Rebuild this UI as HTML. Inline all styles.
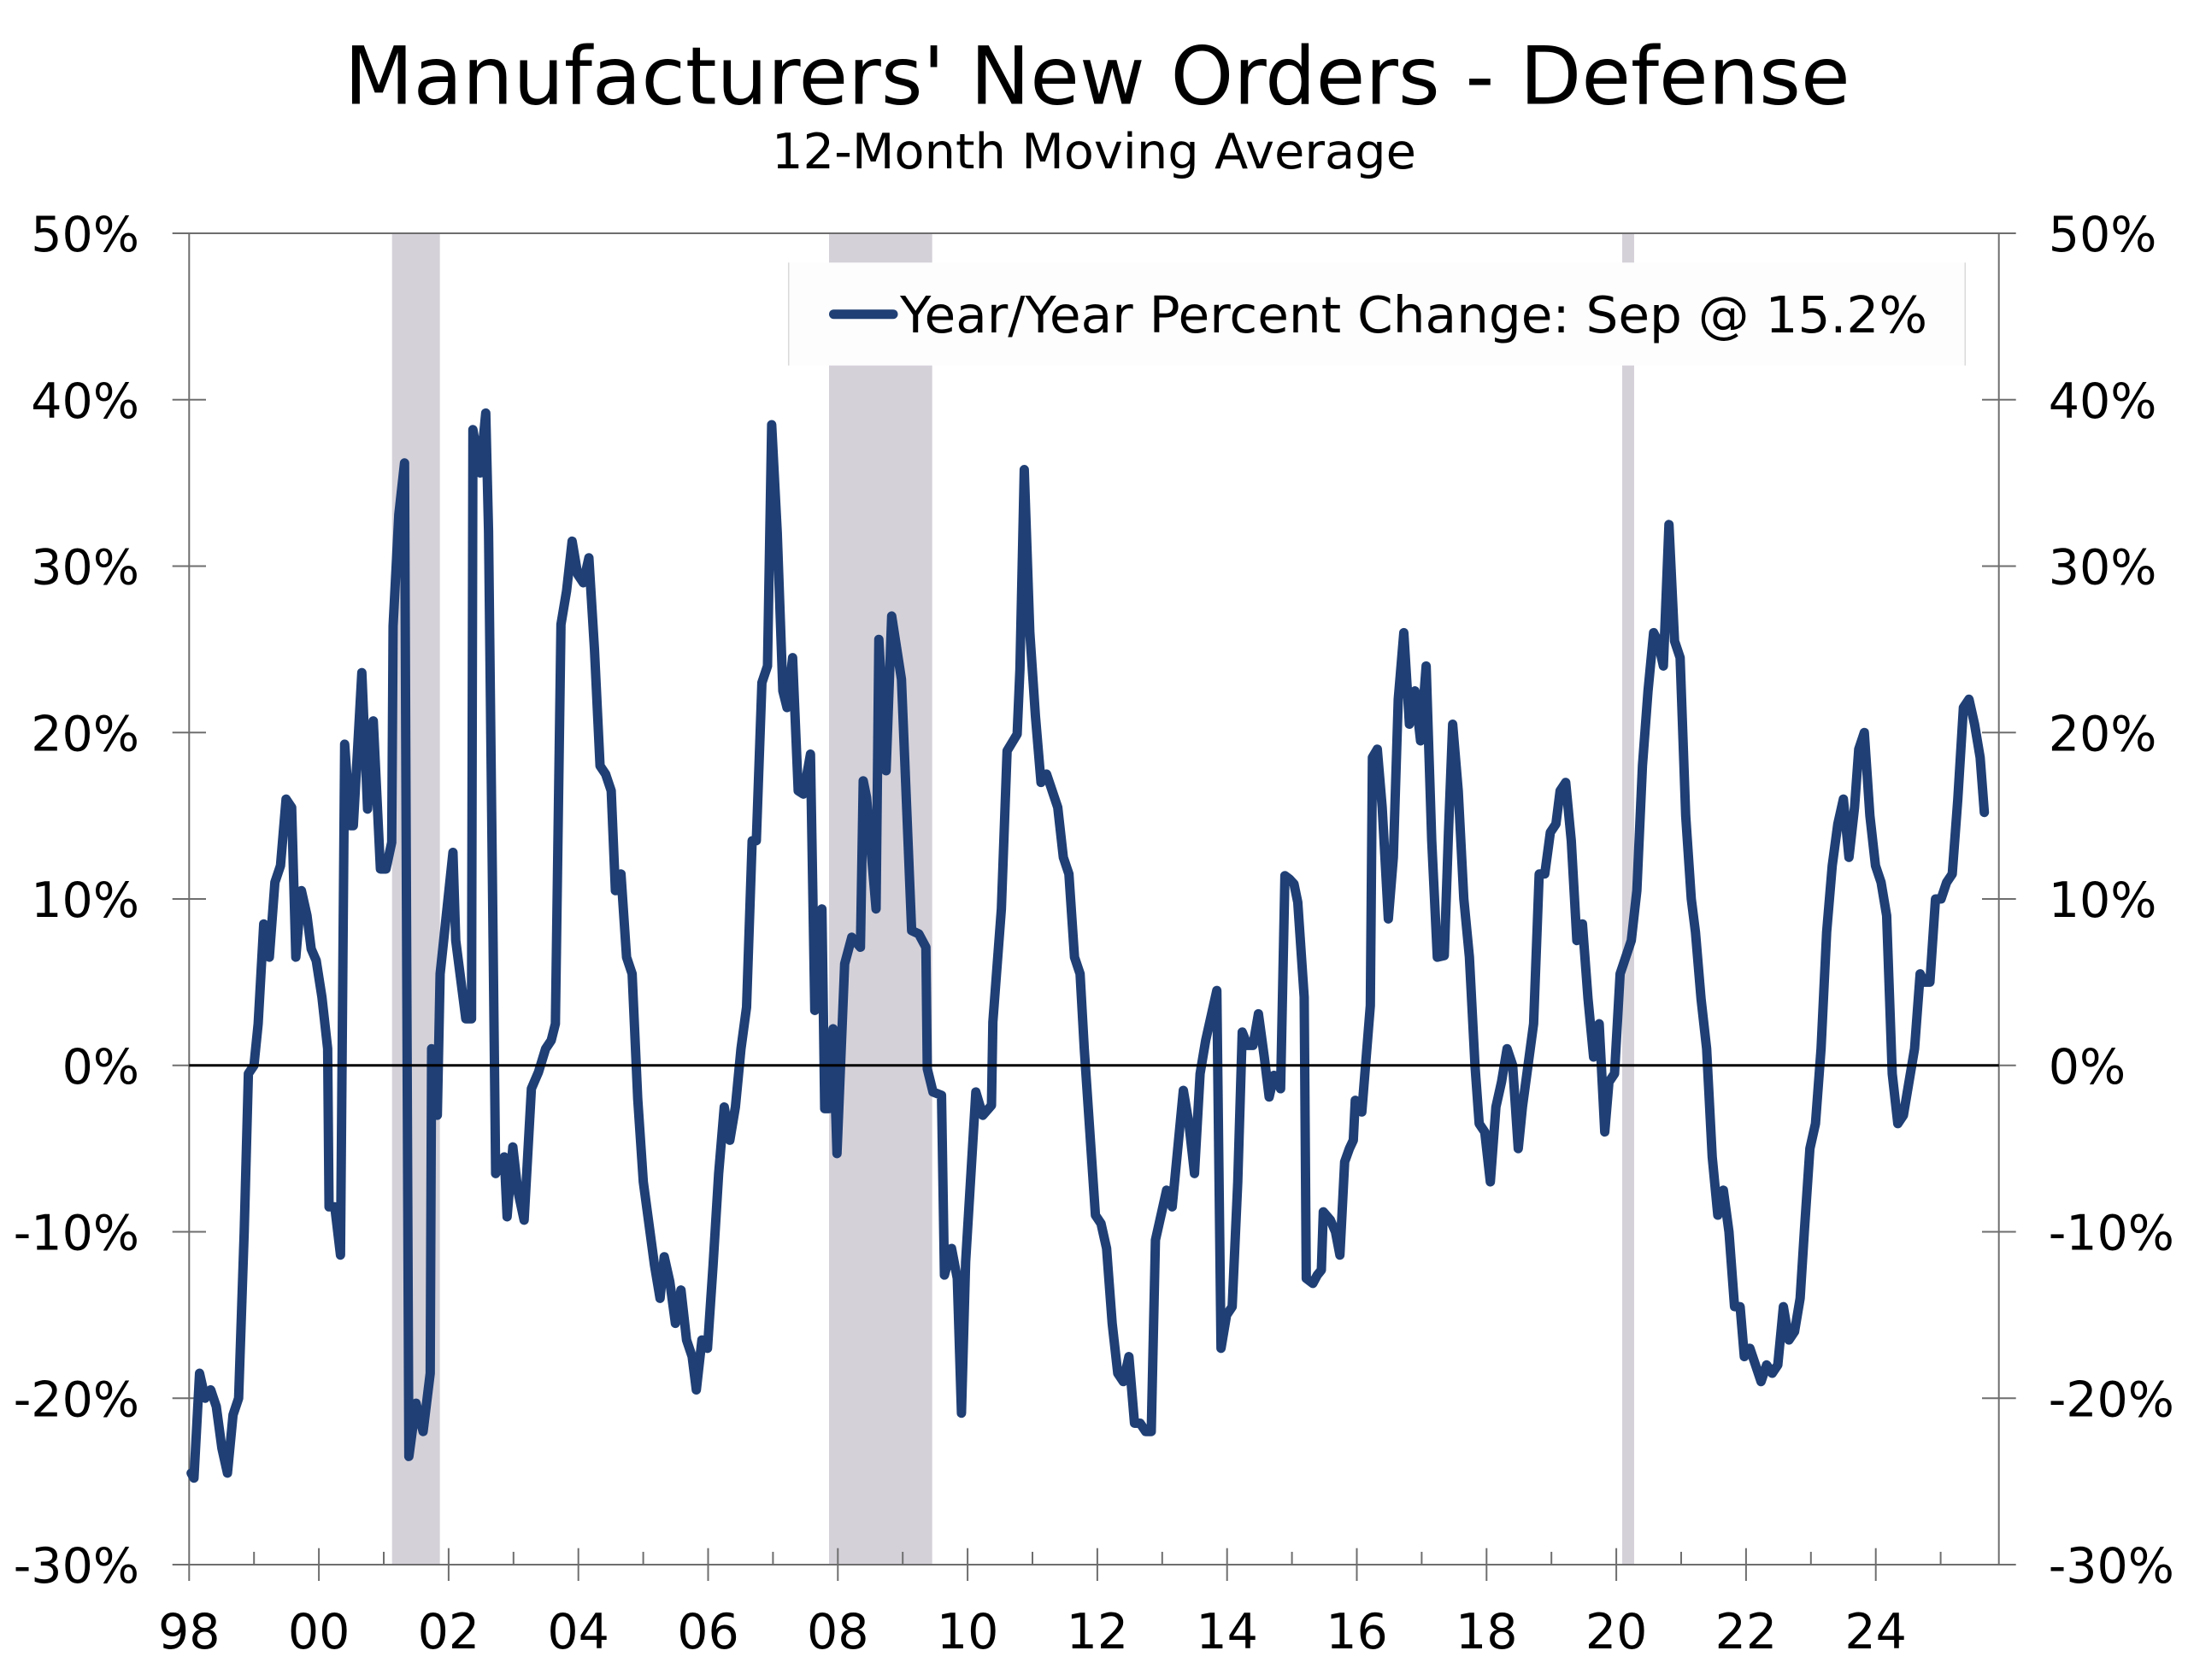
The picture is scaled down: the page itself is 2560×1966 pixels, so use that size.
<!DOCTYPE html>
<html>
<head>
<meta charset="utf-8">
<style>
  html,body{margin:0;padding:0;background:#ffffff;}
  svg{display:block;}
  text{font-family:"DejaVu Sans","Liberation Sans",sans-serif;fill:#000;}
</style>
</head>
<body>
<svg width="2560" height="1966" viewBox="0 0 2560 1966" xmlns="http://www.w3.org/2000/svg">
  <rect x="0" y="0" width="2560" height="1966" fill="#ffffff"/>

  <!-- Title -->
  <text x="402.7" y="121.7" font-size="94" textLength="1762" lengthAdjust="spacingAndGlyphs">Manufacturers' New Orders - Defense</text>
  <text x="903" y="197" font-size="57" textLength="754" lengthAdjust="spacingAndGlyphs">12-Month Moving Average</text>

  <!-- Recession bars -->
  <g fill="#d5d1d9">
    <rect x="458.7" y="273" width="56" height="1558"/>
    <rect x="970" y="273" width="120.7" height="1558"/>
    <rect x="1898" y="273" width="14" height="1558"/>
  </g>

  <!-- Axes frame -->
  <g stroke="#6e6e6e" stroke-width="2" fill="none">
    <line x1="201.7" y1="273" x2="2358.7" y2="273"/>
    <line x1="201.7" y1="1831" x2="2358.7" y2="1831"/>
    <line x1="221.3" y1="273" x2="221.3" y2="1850"/>
    <line x1="2338.7" y1="273" x2="2338.7" y2="1831"/>
    <!-- left y ticks -->
    <line x1="201.7" y1="467.75" x2="241" y2="467.75"/>
    <line x1="201.7" y1="662.5" x2="241" y2="662.5"/>
    <line x1="201.7" y1="857.25" x2="241" y2="857.25"/>
    <line x1="201.7" y1="1052" x2="241" y2="1052"/>
    <line x1="201.7" y1="1246.75" x2="241" y2="1246.75"/>
    <line x1="201.7" y1="1441.5" x2="241" y2="1441.5"/>
    <line x1="201.7" y1="1636.25" x2="241" y2="1636.25"/>
    <!-- right y ticks -->
    <line x1="2319" y1="467.75" x2="2358.7" y2="467.75"/>
    <line x1="2319" y1="662.5" x2="2358.7" y2="662.5"/>
    <line x1="2319" y1="857.25" x2="2358.7" y2="857.25"/>
    <line x1="2319" y1="1052" x2="2358.7" y2="1052"/>
    <line x1="2319" y1="1246.75" x2="2358.7" y2="1246.75"/>
    <line x1="2319" y1="1441.5" x2="2358.7" y2="1441.5"/>
    <line x1="2319" y1="1636.25" x2="2358.7" y2="1636.25"/>
    <!-- x ticks: major even years, minor odd years -->
    <line x1="373.1" y1="1811.7" x2="373.1" y2="1850"/>
    <line x1="524.9" y1="1811.7" x2="524.9" y2="1850"/>
    <line x1="676.7" y1="1811.7" x2="676.7" y2="1850"/>
    <line x1="828.5" y1="1811.7" x2="828.5" y2="1850"/>
    <line x1="980.3" y1="1811.7" x2="980.3" y2="1850"/>
    <line x1="1132.1" y1="1811.7" x2="1132.1" y2="1850"/>
    <line x1="1283.9" y1="1811.7" x2="1283.9" y2="1850"/>
    <line x1="1435.7" y1="1811.7" x2="1435.7" y2="1850"/>
    <line x1="1587.5" y1="1811.7" x2="1587.5" y2="1850"/>
    <line x1="1739.3" y1="1811.7" x2="1739.3" y2="1850"/>
    <line x1="1891.1" y1="1811.7" x2="1891.1" y2="1850"/>
    <line x1="2042.9" y1="1811.7" x2="2042.9" y2="1850"/>
    <line x1="2194.7" y1="1811.7" x2="2194.7" y2="1850"/>
    <line x1="297.2" y1="1816" x2="297.2" y2="1831"/>
    <line x1="449" y1="1816" x2="449" y2="1831"/>
    <line x1="600.8" y1="1816" x2="600.8" y2="1831"/>
    <line x1="752.6" y1="1816" x2="752.6" y2="1831"/>
    <line x1="904.4" y1="1816" x2="904.4" y2="1831"/>
    <line x1="1056.2" y1="1816" x2="1056.2" y2="1831"/>
    <line x1="1208" y1="1816" x2="1208" y2="1831"/>
    <line x1="1359.8" y1="1816" x2="1359.8" y2="1831"/>
    <line x1="1511.6" y1="1816" x2="1511.6" y2="1831"/>
    <line x1="1663.4" y1="1816" x2="1663.4" y2="1831"/>
    <line x1="1815.2" y1="1816" x2="1815.2" y2="1831"/>
    <line x1="1967" y1="1816" x2="1967" y2="1831"/>
    <line x1="2118.8" y1="1816" x2="2118.8" y2="1831"/>
    <line x1="2270.6" y1="1816" x2="2270.6" y2="1831"/>
  </g>

  <!-- Left y labels -->
  <g font-size="57" text-anchor="end">
    <text x="163" y="294">50%</text>
    <text x="163" y="488.75">40%</text>
    <text x="163" y="683.5">30%</text>
    <text x="163" y="878.25">20%</text>
    <text x="163" y="1073">10%</text>
    <text x="163" y="1267.75">0%</text>
    <text x="163" y="1462.5">-10%</text>
    <text x="163" y="1657.25">-20%</text>
    <text x="163" y="1852">-30%</text>
  </g>
  <!-- Right y labels -->
  <g font-size="57" text-anchor="start">
    <text x="2396.7" y="294">50%</text>
    <text x="2396.7" y="488.75">40%</text>
    <text x="2396.7" y="683.5">30%</text>
    <text x="2396.7" y="878.25">20%</text>
    <text x="2396.7" y="1073">10%</text>
    <text x="2396.7" y="1267.75">0%</text>
    <text x="2396.7" y="1462.5">-10%</text>
    <text x="2396.7" y="1657.25">-20%</text>
    <text x="2396.7" y="1852">-30%</text>
  </g>
  <!-- X labels -->
  <g font-size="57" text-anchor="middle">
    <text x="221.3" y="1929">98</text>
    <text x="373.1" y="1929">00</text>
    <text x="524.9" y="1929">02</text>
    <text x="676.7" y="1929">04</text>
    <text x="828.5" y="1929">06</text>
    <text x="980.3" y="1929">08</text>
    <text x="1132.1" y="1929">10</text>
    <text x="1283.9" y="1929">12</text>
    <text x="1435.7" y="1929">14</text>
    <text x="1587.5" y="1929">16</text>
    <text x="1739.3" y="1929">18</text>
    <text x="1891.1" y="1929">20</text>
    <text x="2042.9" y="1929">22</text>
    <text x="2194.7" y="1929">24</text>
  </g>

  <!-- Data line -->
  <g transform="matrix(1.6327,0,0,-19.475,0,1246.75)">
    <polyline fill="none" stroke="#1f3f75" stroke-width="11" stroke-linejoin="round" stroke-linecap="round" vector-effect="non-scaling-stroke"
      points="137,-24.5 139,-24.8 143,-18.5 147,-20 151,-19.5 155,-20.5 159,-23 163,-24.5 167,-21 171,-20 175,-10 178,-0.5 182,0 185,2.5 189,8.5 193,6.5 197,11 201,12 205,16 209,15.5 212,6.5 216,10.5 220,9 223,7 226.6,6.3 230.7,4.1 234.8,1.0 235.8,-8.5 239.9,-8.5 244,-11.4 247,19.3 251.1,14.4 253.2,14.4 259.3,23.6 263.4,15.4 267.5,20.7 272.6,11.8 276.6,11.8 280.7,13.4 281.7,26.4 285.8,33.1 289.9,36.2 293,-23.5 298.1,-20.3 303.2,-22 308.3,-18.5 309.3,1 313.4,-3 315.4,5.5 324.6,12.8 326.6,7.5 333.8,2.8 337.9,2.8 338.9,38.2 344,35.6 348.1,39.2 350.1,32.1 355.2,-6.5 361.4,-5.5 363.4,-9.1 367.5,-4.9 371,-7.5 375.6,-9.3 380.8,-1.4 385.9,-0.4 391,1 395,1.5 398,2.5 402,26.5 406,28.5 410,31.5 414,29.5 418,29 422,30.5 426,25 430,18 434,17.5 438,16.5 441,10.5 445,11.5 449,6.5 453,5.5 457,-2 461,-7 465,-9.5 469,-12 473,-14 476,-11.5 480,-13 484,-15.5 488,-13.5 492,-16.5 496,-17.5 499,-19.5 503,-16.5 507,-17 511,-12 515,-6.5 519,-2.5 523,-4.5 527,-2.5 531,1 535,3.5 539,13.5 542,13.5 546,23 550,24 553,38.5 557,32 561,22.5 564,21.5 568,24.5 572,16.5 575.7,16.3 580.8,18.7 583.9,3.3 589,9.4 591,-2.6 594,-2.6 597,2.2 599.8,-5.3 605.3,6.1 610.4,7.7 616.6,7.1 618.6,17.1 621,16.1 627.8,9.4 629.8,25.6 635,17.7 639,27 646,23.2 653.3,8.1 658.4,7.9 663.5,7.1 664.5,-0.2 668.6,-1.6 674.7,-1.8 676.8,-12.6 681.9,-11 686,-12.8 689,-20.9 692,-11.8 699.3,-1.6 704.3,-3 710.5,-2.4 711.5,2.6 717.6,9.4 721.7,18.9 728.9,19.9 730.9,23.8 734,35.8 738,26 742,21 746,17 750,17.5 754,16.5 758,15.5 762,12.5 766,11.5 770,6.5 774,5.5 777,1 781,-4 785,-9 789,-9.5 793,-11 797,-15.5 801,-18.5 805,-19 809,-17.5 813,-21.5 817,-21.5 821,-22 825,-22 828,-10.5 832,-9 836,-7.5 840,-8.5 844,-5 848,-1.5 852,-3.5 856,-6.5 860,-0.5 864,1.5 868,3 872,4.5 875,-17 879,-15 883,-14.5 887,-7 890.2,2 894,1.2 897.9,1.2 901.8,3.1 906,0.5 909.5,-1.9 913,-0.6 917.7,-1.4 920.8,11.4 924,11.2 927.3,10.9 930,9.8 934.6,4.1 936.1,-12.8 940.8,-13.1 944,-12.6 946.9,-12.3 948.3,-8.8 953.4,-9.3 957,-10 960.2,-11.4 963.6,-5.8 967,-5 969.8,-4.5 971.2,-2.1 975.9,-2.8 982,3.6 983.5,18.5 987,19 990.5,15.5 994.9,8.8 998.5,12.5 1002,22 1006,26 1010,20.5 1014,22.5 1018,19.5 1022,24 1026,13.5 1030,6.5 1035,6.6 1038,14 1041,20.5 1045,16.5 1049,10 1053,6.5 1057,0 1060,-3.5 1064,-4 1068,-7 1072,-2.5 1076,-1 1080,1 1084,0 1088,-5 1091,-2.5 1095,0 1099,2.5 1103,11.5 1107,11.5 1111,14 1115,14.5 1118,16.5 1122,17 1126,13.5 1130,7.5 1134,8.5 1138,4 1142,0.5 1146,2.5 1150,-4 1153,-1 1157,-0.5 1161,5.5 1165,6.5 1169,7.5 1173,10.5 1177,18 1181,22.5 1185,26 1188,25.5 1192,24 1196,32.5 1200,25.5 1204,24.5 1208,15 1212,10 1215,8 1219,4 1223,1 1227,-5.5 1231,-9 1235,-7.5 1239,-10 1243,-14.5 1247,-14.5 1250,-17.5 1254,-17 1258,-18 1262,-19 1266,-18 1270,-18.5 1274,-18 1278,-14.5 1282,-16.5 1286,-16 1290,-14 1293,-10 1297,-5 1301,-3.5 1305,1 1309,8 1313,12 1317,14.5 1321,16 1325,12.5 1329,15.5 1332,19 1336,20 1340,15 1344,12 1348,11 1352,9 1356,-0.5 1360,-3.5 1364,-3 1368,-1 1372,1 1376,5.5 1379,5 1383,5 1387,10 1391,10 1395,11 1399,11.5 1403,16 1407,21.5 1411,22 1415,20.5 1419,18.5 1422,15.2"/>
  </g>

  <!-- Zero line -->
  <line x1="221.3" y1="1246.75" x2="2338.7" y2="1246.75" stroke="#000" stroke-width="3"/>

  <!-- Legend -->
  <rect x="922.7" y="307.3" width="1376.6" height="120.4" fill="#fdfdfd"/>
  <line x1="922.7" y1="307.3" x2="922.7" y2="427.7" stroke="#d9d9d9" stroke-width="1.5"/>
  <line x1="2299.3" y1="307.3" x2="2299.3" y2="427.7" stroke="#d9d9d9" stroke-width="1.5"/>
  <line x1="975.5" y1="367.7" x2="1045" y2="367.7" stroke="#1f3f75" stroke-width="11" stroke-linecap="round"/>
  <text x="1053" y="389" font-size="59" textLength="1202" lengthAdjust="spacingAndGlyphs">Year/Year Percent Change: Sep @ 15.2%</text>
</svg>
</body>
</html>
